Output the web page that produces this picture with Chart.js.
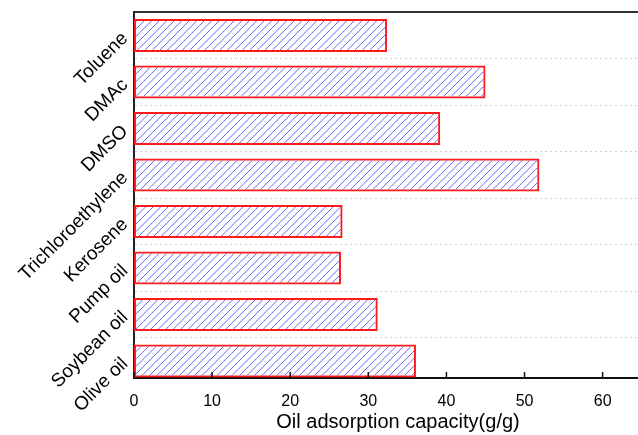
<!DOCTYPE html>
<html lang="en">
<head>
    <meta charset="UTF-8">
    <title>Oil adsorption capacity</title>
    <script src="https://cdn.jsdelivr.net/npm/chart.js"></script>
    <style>
        * {
            margin: 0;
            padding: 0;
            box-sizing: border-box;
        }

        body {
            background: white;
            width: 638px;
            height: 435px;
            overflow: hidden;
        }

        /* plot runs a bit past the right edge of the page */
        canvas {
            display: block;
        }
    </style>
</head>
<body>
    <canvas id="oilChart" width="662" height="435"></canvas>

    <script>
        // Solvents, listed top to bottom
        const solvents = ['Toluene', 'DMAc', 'DMSO', 'Trichloroethylene', 'Kerosene', 'Pump oil', 'Soybean oil', 'Olive oil'];
        const capacity = [32.4, 45.0, 39.2, 51.9, 26.7, 26.5, 31.2, 36.1];
        const xTicks = [0, 10, 20, 30, 40, 50, 60];

        // diagonal blue hatching for the bars
        function hatchPattern() {
            const tile = document.createElement('canvas');
            tile.width = 15;
            tile.height = 15;
            const g = tile.getContext('2d');
            g.strokeStyle = '#6464ff';
            g.lineWidth = 1;
            g.beginPath();
            for (let k = 0; k <= 30; k += 7.5) {
                g.moveTo(k, 0);
                g.lineTo(k - 15, 15);
            }
            g.stroke();
            return g.createPattern(tile, 'repeat');
        }

        // short tick marks pointing up into the plot from the bottom axis
        const innerTicks = {
            id: 'innerTicks',
            afterDraw(chart) {
                const sx = chart.scales.x;
                const ctx = chart.ctx;
                const y0 = chart.chartArea.bottom;
                ctx.save();
                ctx.strokeStyle = '#111';
                ctx.lineWidth = 1.5;
                ctx.beginPath();
                sx.ticks.forEach(t => {
                    const px = sx.getPixelForValue(t.value);
                    ctx.moveTo(px, y0);
                    ctx.lineTo(px, y0 - 6);
                });
                ctx.stroke();
                ctx.restore();
            }
        };

        const points = capacity.map((v, i) => ({ x: v, y: i }));
        const font = "'Liberation Sans', Arial, sans-serif";

        new Chart(document.getElementById('oilChart'), {
            type: 'bar',
            data: {
                datasets: [{
                    data: points,
                    backgroundColor: hatchPattern(),
                    borderColor: '#ff1a1a',
                    borderWidth: 2,
                    borderSkipped: false,
                    categoryPercentage: 1,
                    barPercentage: 1.42
                }]
            },
            options: {
                indexAxis: 'y',
                responsive: false,
                animation: false,
                layout: { padding: { left: 0, top: 12, right: 0, bottom: 0 } },
                plugins: {
                    legend: { display: false },
                    tooltip: { enabled: false }
                },
                scales: {
                    x: {
                        type: 'linear',
                        position: 'bottom',
                        min: 0,
                        max: 67.6,
                        afterBuildTicks: (scale) => {
                            scale.ticks = xTicks.map(v => ({ value: v }));
                        },
                        afterFit: (scale) => { scale.height = 57; },
                        grid: { display: false },
                        border: { display: true, color: '#111', width: 2 },
                        ticks: {
                            color: '#000',
                            padding: 6,
                            maxRotation: 0,
                            font: { family: font, size: 16 }
                        },
                        title: {
                            display: true,
                            text: 'Oil adsorption capacity(g/g)',
                            color: '#000',
                            padding: { top: 0, bottom: 1 },
                            font: { family: font, size: 20 }
                        }
                    },
                    xTop: {
                        type: 'linear',
                        position: 'top',
                        min: 0,
                        max: 67.6,
                        afterFit: (scale) => { scale.height = 0; },
                        grid: { display: false },
                        ticks: { display: false },
                        border: { display: true, color: '#333', width: 2 }
                    },
                    y: {
                        type: 'linear',
                        reverse: true,
                        offset: false,
                        min: -0.505,
                        max: 7.366,
                        afterBuildTicks: (scale) => {
                            const t = [];
                            for (let i = 0; i < solvents.length; i++) {
                                t.push({ value: i });
                                if (i < solvents.length - 1) t.push({ value: i + 0.5 });
                            }
                            scale.ticks = t;
                        },
                        afterFit: (scale) => {
                            scale.width = 134;
                            scale.paddingTop = 0;
                            scale.paddingBottom = 0;
                        },
                        grid: {
                            offset: false,
                            drawTicks: false,
                            lineWidth: 1,
                            color: (ctx) => (ctx.tick && !Number.isInteger(ctx.tick.value)) ? '#d2d2d2' : 'rgba(0,0,0,0)'
                        },
                        border: { display: true, color: '#222', width: 2, dash: [2, 3] },
                        ticks: {
                            autoSkip: false,
                            minRotation: 45,
                            maxRotation: 45,
                            padding: 9,
                            color: '#000',
                            font: { family: font, size: 19 },
                            callback: (v) => Number.isInteger(v) ? solvents[v] : ''
                        }
                    }
                }
            },
            plugins: [innerTicks]
        });
    </script>
</body>
</html>
